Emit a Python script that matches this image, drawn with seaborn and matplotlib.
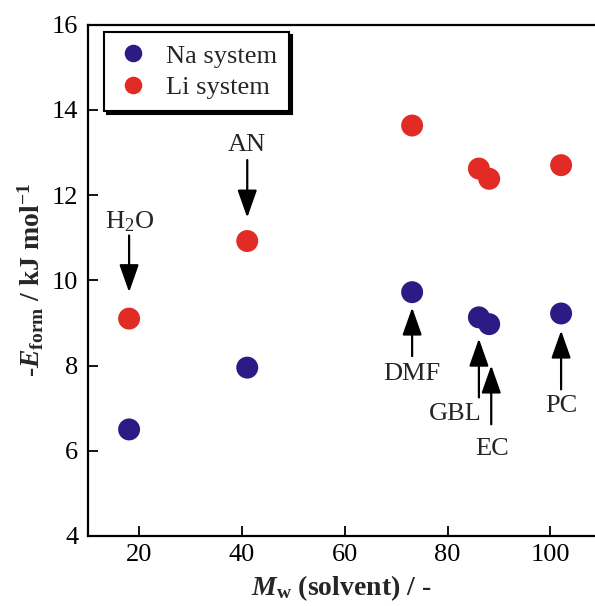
import matplotlib
matplotlib.use("Agg")
import matplotlib.pyplot as plt
import seaborn as sns
import pandas as pd

# Molecular weight of each solvent and formation energies (-E_form, kJ/mol)
solvents = ["H2O", "AN", "DMF", "GBL", "EC", "PC"]
mw = [18.0, 41.0, 73.1, 86.1, 88.1, 102.1]
na_energy = [6.50, 7.95, 9.72, 9.13, 8.97, 9.22]
li_energy = [9.10, 10.92, 13.63, 12.62, 12.38, 12.70]

series_names = ["Na system", "Li system"]
series_colors = ["#2d1b85", "#e32b26"]

# Arrow annotations: label, x, text y, arrow tail y, arrow tip y, text x
labels = ["H$_2$O", "AN", "DMF", "GBL", "EC", "PC"]
label_x = [18.0, 41.0, 73.1, 81.5, 88.6, 102.1]
arrow_x = [18.0, 41.0, 73.1, 86.1, 88.5, 102.1]
label_y = [11.38, 13.18, 7.80, 6.86, 6.04, 7.04]
tail_y = [11.05, 12.82, 8.22, 7.25, 6.62, 7.44]
tip_y = [9.72, 11.47, 9.36, 8.63, 8.00, 8.82]

df = pd.DataFrame({
    "Mw": mw + mw,
    "E": na_energy + li_energy,
    "system": [series_names[0]] * len(mw) + [series_names[1]] * len(mw),
})

sns.set_theme(style="ticks")
plt.rcParams["font.family"] = ["Liberation Serif", "DejaVu Serif"]
plt.rcParams["mathtext.fontset"] = "custom"
plt.rcParams["mathtext.rm"] = "Liberation Serif"
plt.rcParams["mathtext.it"] = "Liberation Serif:italic"
plt.rcParams["mathtext.bf"] = "Liberation Serif:bold"
plt.rcParams["mathtext.bfit"] = "Liberation Serif:italic:bold"

fig = plt.figure(figsize=(5.95, 6.06), dpi=100)
ax = fig.add_axes([88 / 595, 1 - 536 / 606, 1 - 88 / 595, (536 - 24.5) / 606])

sns.scatterplot(data=df, x="Mw", y="E", hue="system",
                palette=dict(zip(series_names, series_colors)),
                s=250, edgecolor="none", linewidth=0, ax=ax, zorder=3)

ax.set_xlim(10, 108.7)
ax.set_ylim(4, 16)
ax.set_xticks([20, 40, 60, 80, 100])
ax.set_yticks([4, 6, 8, 10, 12, 14, 16])
ax.tick_params(direction="in", length=7, width=1.3, labelsize=19,
               colors="black", pad=6)
ax.tick_params(axis="y", pad=7)
for side in ["left", "bottom", "top"]:
    ax.spines[side].set_linewidth(1.6)
    ax.spines[side].set_color("black")
ax.spines["right"].set_visible(False)

ax.set_xlabel(r"$\mathbfit{M}_{\mathbf{w}}$ (solvent) / -",
              fontsize=20, fontweight="bold", labelpad=5)
ax.set_ylabel(r"-$\mathbfit{E}_{\mathbf{form}}$ / kJ mol$^{\mathbf{-1}}$",
              fontsize=20, fontweight="bold", labelpad=4)

arrow_props = dict(arrowstyle="-|>,head_length=0.85,head_width=0.3",
                   mutation_scale=20, color="black", lw=1.6,
                   shrinkA=0, shrinkB=0)
for lab, lx, ax_x, ly, ty, py in zip(labels, label_x, arrow_x, label_y,
                                      tail_y, tip_y):
    ax.annotate("", xy=(ax_x, py), xytext=(ax_x, ty), arrowprops=arrow_props)
    ax.text(lx, ly, lab, ha="center", va="center", fontsize=19)

leg = ax.legend(loc="upper left", bbox_to_anchor=(0.032, 0.985),
                borderaxespad=0, fontsize=19, frameon=True, fancybox=False,
                shadow={"color": "black", "alpha": 1},
                handletextpad=0.6, labelspacing=0.3, borderpad=0.45,
                markerscale=0.8, handlelength=1.3)
leg.get_frame().set_edgecolor("black")
leg.get_frame().set_linewidth(1.5)
leg.get_frame().set_alpha(1)

fig.savefig("out.png", dpi=100)
